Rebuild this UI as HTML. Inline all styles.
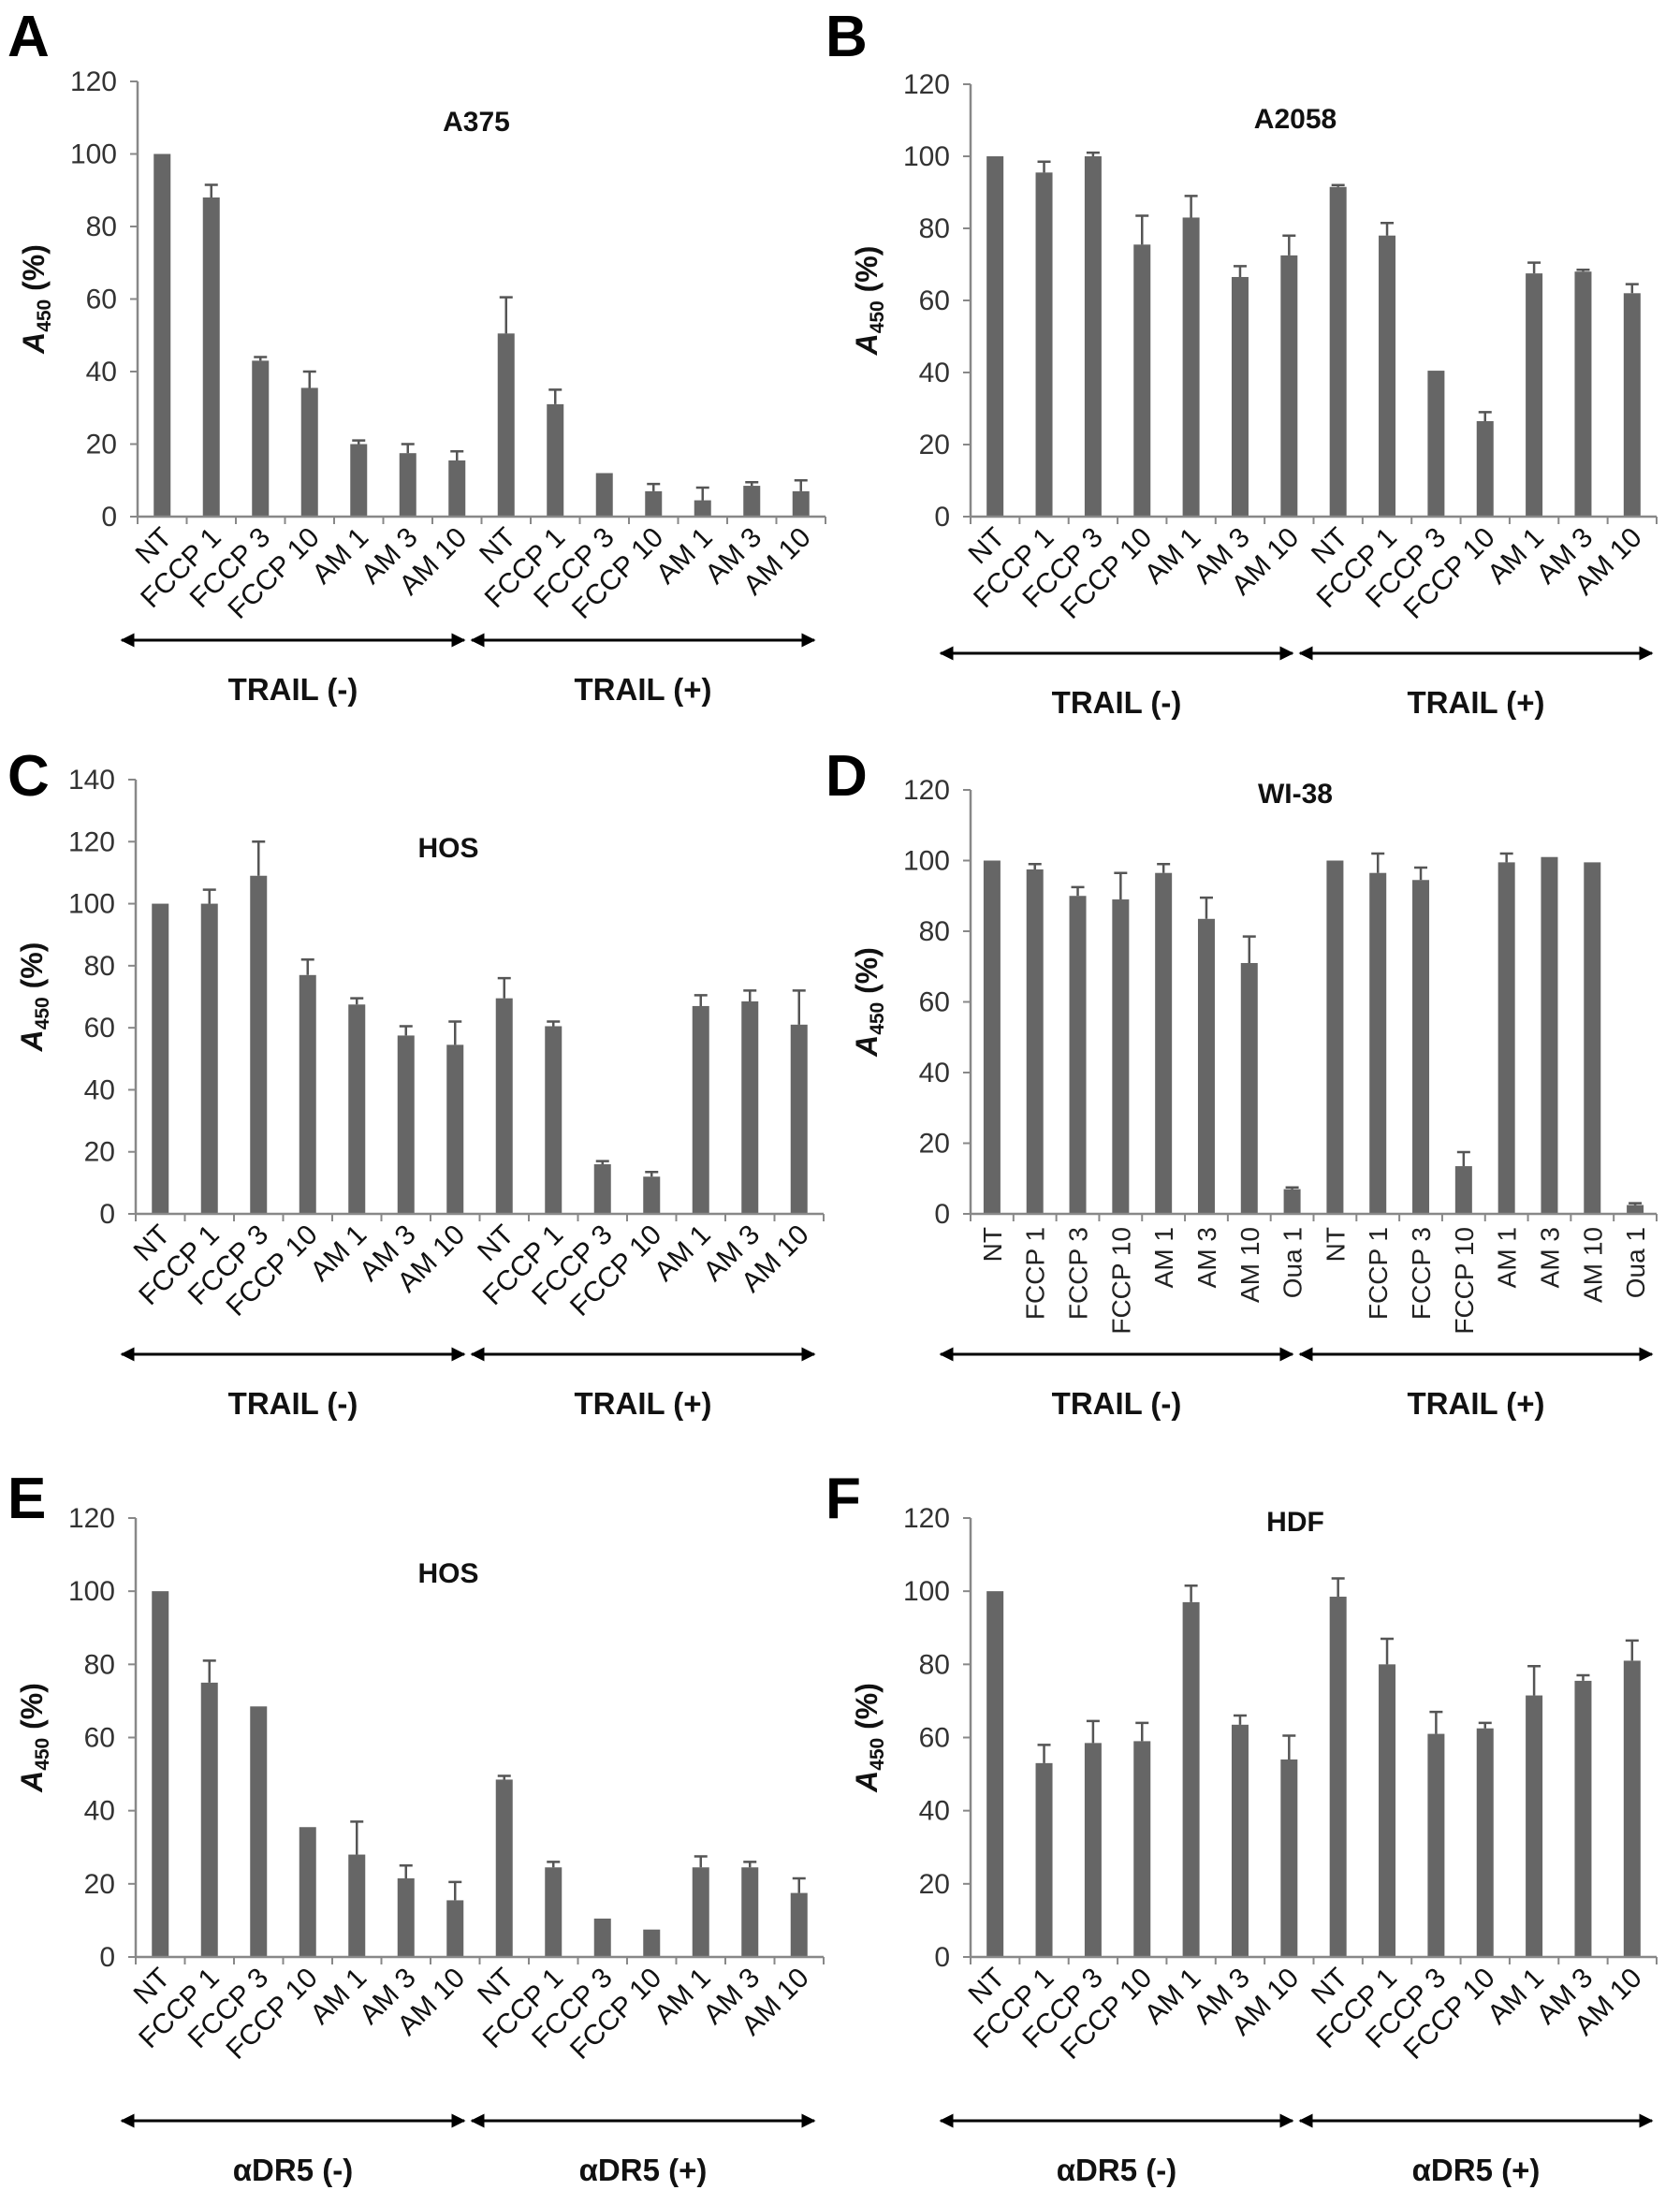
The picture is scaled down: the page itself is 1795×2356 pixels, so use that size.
<!DOCTYPE html>
<html><head><meta charset="utf-8"><style>
html,body{margin:0;padding:0;background:#fff;}
svg{display:block;font-family:"Liberation Sans",sans-serif;}
</style></head><body>
<svg id="fig" width="1795" height="2356" viewBox="0 0 1795 2356" xmlns="http://www.w3.org/2000/svg">
<defs>
<marker id="ah" viewBox="0 0 10 10" refX="9" refY="5" markerWidth="5" markerHeight="5" orient="auto-start-reverse"><path d="M0,0 L10,5 L0,10 z" fill="#000"/></marker>
</defs>
</svg>
<script>
const catsStd = ["NT","FCCP 1","FCCP 3","FCCP 10","AM 1","AM 3","AM 10","NT","FCCP 1","FCCP 3","FCCP 10","AM 1","AM 3","AM 10"];
const catsD = ["NT","FCCP 1","FCCP 3","FCCP 10","AM 1","AM 3","AM 10","Oua 1","NT","FCCP 1","FCCP 3","FCCP 10","AM 1","AM 3","AM 10","Oua 1"];
const valsA = [100,88,43,35.5,20,17.5,15.5,50.5,31,12,7,4.5,8.5,7];
const errA = [0,3.5,1,4.5,1,2.5,2.5,10,4,0,2,3.5,1,3];
const valsB = [100,95.5,100,75.5,83,66.5,72.5,91.5,78,40.5,26.5,67.5,68,62];
const errB = [0,3,1,8,6,3,5.5,0.5,3.5,0,2.5,3,0.5,2.5];
const valsC = [100,100,109,77,67.5,57.5,54.5,69.5,60.5,16,12,67,68.5,61];
const errC = [0,4.5,11,5,2,3,7.5,6.5,1.5,1,1.5,3.5,3.5,11];
const valsD = [100,97.5,90,89,96.5,83.5,71,7,100,96.5,94.5,13.5,99.5,101,99.5,2.5];
const errD = [0,1.5,2.5,7.5,2.5,6,7.5,0.5,0,5.5,3.5,4,2.5,0,0,0.5];
const valsE = [100,75,68.5,35.5,28,21.5,15.5,48.5,24.5,10.5,7.5,24.5,24.5,17.5];
const errE = [0,6,0,0,9,3.5,5,1,1.5,0,0,3,1.5,4];
const valsF = [100,53,58.5,59,97,63.5,54,98.5,80,61,62.5,71.5,75.5,81];
const errF = [0,5,6,5,4.5,2.5,6.5,5,7,6,1.5,8,1.5,5.5];
const ticks120 = [0,20,40,60,80,100,120];
const ticks140 = [0,20,40,60,80,100,120,140];

const NS="http://www.w3.org/2000/svg";
const svg=document.getElementById('fig');
function mk(tag,attrs,parent,text){const e=document.createElementNS(NS,tag);for(const k in attrs)e.setAttribute(k,attrs[k]);if(text!==undefined)e.textContent=text;(parent||svg).appendChild(e);return e;}

function panel(cfg){
  const g=mk('g',{});
  
  
  const max=cfg.ticks[cfg.ticks.length-1];
  const yS=v=>cfg.y0-(cfg.y0-cfg.yTop)*v/max;
  const n=cfg.cats.length;
  const step=(cfg.xr-cfg.xl)/n;
  const xS=i=>cfg.xl+step*(i+0.5);
  const L=mk('text',{x:cfg.lx,y:cfg.ly,'font-size':62,'font-weight':'bold',fill:'#000'},g,cfg.letter);
  
  
  const T=mk('text',{x:cfg.tx,y:cfg.ty,'font-size':30,'font-weight':'bold','text-anchor':'middle',fill:'#111'},g,cfg.title);
  
  
  cfg.ticks.forEach(t=>{
    const y=yS(t);
    mk('line',{x1:cfg.xl-8,x2:cfg.xl,y1:y,y2:y,stroke:'#888','stroke-width':2},g);
    const tl=mk('text',{x:cfg.xl-22,y:y+10,'font-size':30,'text-anchor':'end',fill:'#333'},g,String(t));
    
    
  });
  cfg.vals.forEach((v,i)=>{
    const bw=18;
    const r=mk('rect',{x:xS(i)-bw/2,y:yS(v),width:bw,height:cfg.y0-yS(v),fill:'#666'},g);
    
    
    const e=cfg.err[i];
    if(e>0){
      const ye=yS(v+e);
      const eb=mk('path',{d:`M${xS(i)},${yS(v)} V${ye} M${xS(i)-7},${ye} H${xS(i)+7}`,stroke:'#555','stroke-width':2.5,fill:'none'},g);
      
      
    }
  });
  mk('line',{x1:cfg.xl,x2:cfg.xl,y1:cfg.yTop,y2:cfg.y0,stroke:'#888','stroke-width':2.5},g);
  mk('line',{x1:cfg.xl,x2:cfg.xr,y1:cfg.y0,y2:cfg.y0,stroke:'#888','stroke-width':2.5},g);
  for(let i=0;i<=n;i++){const x=cfg.xl+step*i;mk('line',{x1:x,x2:x,y1:cfg.y0,y2:cfg.y0+8,stroke:'#888','stroke-width':2},g);}
  cfg.cats.forEach((c,i)=>{
    let tl;
    if(cfg.vertical){
      const x=xS(i)+10, y=cfg.y0+14;
      tl=mk('text',{x:x,y:y,'font-size':28,'text-anchor':'end',fill:'#222',transform:`rotate(-90 ${x} ${y})`},g,c);
    } else {
      const x=xS(i)+12, y=cfg.y0+24;
      tl=mk('text',{x:x,y:y,'font-size':30,'text-anchor':'end',fill:'#111',transform:`rotate(-45 ${x} ${y})`},g,c);
    }
    
    
  });
  const yx=cfg.xl-100, ym=(cfg.y0+cfg.yTop)/2;
  const yt=mk('text',{x:yx,y:ym,'font-size':32,'font-weight':'bold','text-anchor':'middle',fill:'#111',transform:`rotate(-90 ${yx} ${ym})`},g);
  
  
  mk('tspan',{'font-style':'italic'},yt,'A');
  mk('tspan',{'font-size':21,dy:7},yt,'450');
  mk('tspan',{dy:-7},yt,' (%)');
  const mid=(cfg.axl+cfg.axr)/2;
  [[cfg.axl,mid-4],[mid+4,cfg.axr]].forEach((p,k)=>{
    const a=mk('line',{x1:p[0],x2:p[1],y1:cfg.ay,y2:cfg.ay,stroke:'#000','stroke-width':3,'marker-start':'url(#ah)','marker-end':'url(#ah)'},g);
    
    
    const gl=mk('text',{x:(p[0]+p[1])/2,y:cfg.ay+64,'font-size':33,'font-weight':'bold','text-anchor':'middle',fill:'#111'},g,cfg.groups[k]);
    
    
  });
}
const TR=["TRAIL (-)","TRAIL (+)"], DR=["αDR5 (-)","αDR5 (+)"];
panel({letter:'A',lx:8,ly:60,title:'A375',tx:509,ty:140,xl:147,xr:882,y0:552,yTop:87,ticks:ticks120,cats:catsStd,vals:valsA,err:errA,axl:130,axr:870,ay:684,groups:TR});
panel({letter:'B',lx:882,ly:60,title:'A2058',tx:1384,ty:137,xl:1037,xr:1770,y0:552,yTop:90,ticks:ticks120,cats:catsStd,vals:valsB,err:errB,axl:1005,axr:1765,ay:698,groups:TR});
panel({letter:'C',lx:8,ly:850,title:'HOS',tx:479,ty:916,xl:145,xr:880,y0:1297,yTop:833,ticks:ticks140,cats:catsStd,vals:valsC,err:errC,axl:130,axr:870,ay:1447,groups:TR});
panel({letter:'D',lx:882,ly:850,title:'WI-38',tx:1384,ty:858,xl:1037,xr:1770,y0:1297,yTop:844,ticks:ticks120,cats:catsD,vals:valsD,err:errD,axl:1005,axr:1765,ay:1447,groups:TR,vertical:true});
panel({letter:'E',lx:8,ly:1622,title:'HOS',tx:479,ty:1691,xl:145,xr:880,y0:2091,yTop:1622,ticks:ticks120,cats:catsStd,vals:valsE,err:errE,axl:130,axr:870,ay:2266,groups:DR});
panel({letter:'F',lx:882,ly:1622,title:'HDF',tx:1384,ty:1636,xl:1037,xr:1770,y0:2091,yTop:1622,ticks:ticks120,cats:catsStd,vals:valsF,err:errF,axl:1005,axr:1765,ay:2266,groups:DR});
</script>
</body></html>
